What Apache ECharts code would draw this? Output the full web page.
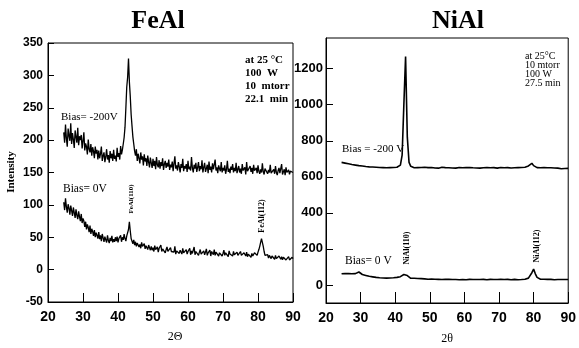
<!DOCTYPE html>
<html><head><meta charset="utf-8">
<script src="https://cdn.jsdelivr.net/npm/echarts@6/dist/echarts.min.js"></script>
<style>html,body{margin:0;padding:0;background:#fff}#c{width:579px;height:348px}</style>
</head><body><div id="c"></div>
<script>
// FeAl 2-theta grid (degrees, 0.25 step)
const feTheta = [
24.5,24.75,25,25.25,25.5,25.75,26,26.25,26.5,26.75, 27,27.25,27.5,27.75,28,28.25,28.5,28.75,29,29.25,
29.5,29.75,30,30.25,30.5,30.75,31,31.25,31.5,31.75, 32,32.25,32.5,32.75,33,33.25,33.5,33.75,34,34.25,
34.5,34.75,35,35.25,35.5,35.75,36,36.25,36.5,36.75, 37,37.25,37.5,37.75,38,38.25,38.5,38.75,39,39.25,
39.5,39.75,40,40.25,40.5,40.75,41,41.25,41.5,41.75, 42,42.25,42.5,42.75,43,43.25,43.5,43.75,44,44.25,
44.5,44.75,45,45.25,45.5,45.75,46,46.25,46.5,46.75, 47,47.25,47.5,47.75,48,48.25,48.5,48.75,49,49.25,
49.5,49.75,50,50.25,50.5,50.75,51,51.25,51.5,51.75, 52,52.25,52.5,52.75,53,53.25,53.5,53.75,54,54.25,
54.5,54.75,55,55.25,55.5,55.75,56,56.25,56.5,56.75, 57,57.25,57.5,57.75,58,58.25,58.5,58.75,59,59.25,
59.5,59.75,60,60.25,60.5,60.75,61,61.25,61.5,61.75, 62,62.25,62.5,62.75,63,63.25,63.5,63.75,64,64.25,
64.5,64.75,65,65.25,65.5,65.75,66,66.25,66.5,66.75, 67,67.25,67.5,67.75,68,68.25,68.5,68.75,69,69.25,
69.5,69.75,70,70.25,70.5,70.75,71,71.25,71.5,71.75, 72,72.25,72.5,72.75,73,73.25,73.5,73.75,74,74.25,
74.5,74.75,75,75.25,75.5,75.75,76,76.25,76.5,76.75, 77,77.25,77.5,77.75,78,78.25,78.5,78.75,79,79.25,
79.5,79.75,80,80.25,80.5,80.75,81,81.25,81.5,81.75, 82,82.25,82.5,82.75,83,83.25,83.5,83.75,84,84.25,
84.5,84.75,85,85.25,85.5,85.75,86,86.25,86.5,86.75, 87,87.25,87.5,87.75,88,88.25,88.5,88.75,89,89.25,
89.5,89.75,90];

// FeAl, Bias = -200 V
const feAlBias200 = [
212,196,224,203,190,218,207,199,226,194, 211,201,188,215,205,196,219,192,206,200,
208,187,199,212,184,195,190,178,201,186, 181,194,176,189,183,172,190,179,185,170,
184,172,179,190,168,176,181,166,174,186, 170,177,165,183,172,179,168,185,171,176,
167,188,174,180,170,191,178,185,194,204, 220,250,282,297,326,290,268,240,222,205,
194,183,176,186,168,179,172,164,181,170, 175,161,178,167,172,160,176,166,158,173,
165,157,171,160,168,155,174,162,158,169, 156,166,160,172,154,163,168,157,165,159,
170,154,162,158,167,152,164,175,156,161, 153,166,159,150,163,157,171,152,160,156,
163,151,168,155,159,153,174,157,150,162, 156,165,151,158,166,152,160,155,169,150,
158,165,151,156,162,149,167,154,159,150, 164,155,152,170,153,158,149,161,156,152,
166,150,157,153,161,148,155,168,151,156, 149,159,154,163,150,157,152,165,149,155,
160,150,156,148,163,153,151,158,147,166, 152,155,149,160,151,157,148,162,153,150,
157,149,161,152,148,155,150,164,151,147, 156,153,159,148,154,150,162,149,152,147,
155,148,160,150,146,153,157,149,152,163, 147,151,155,146,158,150,148,154,147,152,
149,155,150];

// FeAl, Bias = 0 V
const feAlBias0 = [
104,92,110,97,88,101,95,85,99,91, 83,96,88,80,93,84,78,90,82,75,
86,72,79,75,66,74,62,70,65,58, 68,55,63,59,52,61,50,57,53,48,
58,47,53,44,55,49,43,51,46,42, 53,45,41,49,44,52,42,47,43,50,
44,51,42,48,45,53,43,50,46,55, 48,44,52,55,62,74,60,48,45,40,
46,38,43,36,41,44,35,39,33,42, 36,34,40,32,37,35,31,38,34,30,
36,30,34,28,37,31,29,35,27,33, 30,38,28,32,29,34,26,31,35,28,
30,26,34,28,25,31,27,36,24,29, 26,32,25,30,28,24,33,26,29,25,
31,24,28,26,33,23,29,25,27,35, 23,28,25,30,22,27,31,24,26,23,
29,23,27,32,22,26,24,30,21,28, 25,23,31,22,27,24,29,21,26,23,
28,21,25,30,22,26,23,27,20,29, 24,22,26,21,28,23,25,20,27,22,
25,20,28,22,24,19,26,23,21,27, 20,24,22,26,19,25,21,23,26,24,
25,22,27,31,36,42,48,45,36,28, 22,24,19,23,18,22,20,17,21,19,
20,16,22,17,19,15,21,18,16,20, 15,19,17,21,15,18,16,20,15,18,
16,19,17];

// NiAl 2-theta grid (degrees, 0.5 step)
const niTheta = [
24.5,25,25.5,26,26.5,27,27.5,28,28.5,29,
29.5,30,30.5,31,31.5,32,32.5,33,33.5,34,
34.5,35,35.5,36,36.5,37,37.5,38,38.5,39,
39.5,40,40.5,41,41.5,42,42.5,43,43.5,44,
44.5,45,45.5,46,46.5,47,47.5,48,48.5,49,
49.5,50,50.5,51,51.5,52,52.5,53,53.5,54,
54.5,55,55.5,56,56.5,57,57.5,58,58.5,59,
59.5,60,60.5,61,61.5,62,62.5,63,63.5,64,
64.5,65,65.5,66,66.5,67,67.5,68,68.5,69,
69.5,70,70.5,71,71.5,72,72.5,73,73.5,74,
74.5,75,75.5,76,76.5,77,77.5,78,78.5,79,
79.5,80,80.5,81,81.5,82,82.5,83,83.5,84,
84.5,85,85.5,86,86.5,87,87.5,88,88.5,89,
89.5,90];

// NiAl, Bias = -200 V
const niAlBias200 = [
680,685,676,680,672,675,668,670,665,667,
662,665,660,662,657,660,655,658,654,656,
653,655,652,654,651,653,650,653,651,654,
652,655,653,658,665,720,1000,1267,820,680,
658,652,650,648,651,649,652,650,653,649,
651,648,652,650,649,652,648,650,653,649,
651,648,650,652,649,651,648,650,652,649,
650,648,651,649,652,648,650,651,649,650,
648,651,650,649,652,648,650,649,651,650,
648,650,652,649,650,648,651,650,649,651,
650,648,651,649,652,650,653,655,660,668,
675,662,655,651,649,650,648,651,649,650,
648,650,647,649,646,648,647,645,648,646,
645,647];

// NiAl, Bias = 0 V
const niAlBias0 = [
62,60,64,61,63,60,62,61,63,66,
72,62,58,55,53,50,48,46,45,43,
42,41,40,41,39,40,38,40,39,41,
40,41,42,44,46,50,58,66,52,42,
37,36,37,35,36,34,35,33,34,33,
32,34,33,31,32,33,31,32,30,32,
31,30,32,31,30,32,30,31,29,31,
30,31,29,30,31,29,30,31,30,29,
30,29,31,30,29,30,31,29,30,31,
30,29,31,30,30,29,31,30,29,30,
31,30,29,31,30,31,32,34,38,48,
68,88,62,42,35,32,31,32,30,31,
30,31,30,29,31,30,29,30,31,30,
29,30];

const feYTicks = [-50,0,50,100,150,200,250,300,350];
const niYTicks = [0,200,400,600,800,1000,1200];

const pairs = (xs, arr) => xs.map((t,i)=>[t, arr[i]]);

const serif = "'Liberation Serif','Times New Roman',serif";
const sans = "'Liberation Sans Narrow','Liberation Sans',Arial,sans-serif";

const chart = echarts.init(document.getElementById('c'), null, {renderer:'canvas'});

function xAxis(gi, tickLen){
  return {
    type:'value', gridIndex:gi, min:20, max:90, interval:10,
    axisLine:{show:true, onZero:false, lineStyle:{color:'#000', width:1}},
    axisTick:{show:true, inside:true, length:tickLen, lineStyle:{color:'#000', width:1}},
    axisLabel:{color:'#000', fontFamily:sans, fontWeight:'bold', fontSize:14, margin:8},
    splitLine:{show:false}
  };
}

function txt(x,y,s,opt){
  return {type:'text', x:x, y:y, style:Object.assign({text:s, fill:'#000', font:'12px '+serif, textAlign:'left', textVerticalAlign:'middle'}, opt||{})};
}
function rot(x,y,s,size){
  return {type:'text', x:x, y:y, rotation:Math.PI/2, style:{text:s, fill:'#000', font:'bold '+size+'px '+serif, textAlign:'center', textVerticalAlign:'middle'}};
}

chart.setOption({
  animation:false,
  backgroundColor:'#fff',
  grid:[
    {left:48, right:286, top:43, bottom:46, show:true, borderColor:'#000', borderWidth:1},
    {left:326, right:8, top:38, bottom:45, show:true, borderColor:'#000', borderWidth:1}
  ],
  xAxis:[ xAxis(0, 9), xAxis(1, 11) ],
  yAxis:[
    {type:'value', gridIndex:0, min:-50, max:350, interval:50,
     axisLine:{show:true, lineStyle:{color:'#000'}},
     axisTick:{show:true, inside:true, length:6, lineStyle:{color:'#000'}},
     axisLabel:{color:'#000', fontFamily:sans, fontWeight:'bold', fontSize:12, margin:5, customValues:feYTicks},
     splitLine:{show:false}},
    {type:'value', gridIndex:1, min:-100, max:1370,
     axisLine:{show:true, lineStyle:{color:'#000'}},
     axisTick:{show:true, inside:true, length:7, customValues:niYTicks, lineStyle:{color:'#000'}},
     axisLabel:{color:'#000', fontFamily:sans, fontWeight:'bold', fontSize:13, margin:3, customValues:niYTicks,
                formatter:v=>String(v)},
     splitLine:{show:false}}
  ],
  series:[
    {type:'line', xAxisIndex:0, yAxisIndex:0, data:pairs(feTheta, feAlBias200), symbol:'none', lineStyle:{color:'#000', width:1.3}},
    {type:'line', xAxisIndex:0, yAxisIndex:0, data:pairs(feTheta, feAlBias0), symbol:'none', lineStyle:{color:'#000', width:1.3}},
    {type:'line', xAxisIndex:1, yAxisIndex:1, data:pairs(niTheta, niAlBias200), symbol:'none', lineStyle:{color:'#000', width:1.6}},
    {type:'line', xAxisIndex:1, yAxisIndex:1, data:pairs(niTheta, niAlBias0), symbol:'none', lineStyle:{color:'#000', width:1.6}}
  ],
  graphic:[
    txt(158,21,'FeAl',{font:'bold 26px '+serif, textAlign:'center'}),
    txt(458,21,'NiAl',{font:'bold 26px '+serif, textAlign:'center'}),
    rot(11,172,'Intensity',11),
    txt(175,337,'2\u0398',{textAlign:'center', font:'12px '+serif}),
    txt(447,339,'2\u03b8',{textAlign:'center', font:'12px '+serif}),
    txt(61,117,'Bias= -200V',{font:'11px '+serif}),
    txt(63,189,'Bias= 0V',{font:'11.5px '+serif}),
    txt(245,60,'at 25 \u00b0C',{font:'bold 11px '+serif}),
    txt(245,73,'100  W',{font:'bold 11px '+serif}),
    txt(245,86,'10  mtorr',{font:'bold 11px '+serif}),
    txt(245,99,'22.1  min',{font:'bold 11px '+serif}),
    rot(131,199,'FeAl(110)',7),
    rot(262,216,'FeAl(112)',8),
    txt(525,56,'at 25\u00b0C',{font:'10px '+serif}),
    txt(525,65,'10 mtorr',{font:'10px '+serif}),
    txt(525,74,'100 W',{font:'10px '+serif}),
    txt(525,83,'27.5 min',{font:'10px '+serif}),
    txt(342,149,'Bias = -200 V',{font:'11px '+serif}),
    txt(345,261,'Bias= 0 V',{font:'11.5px '+serif}),
    rot(407,248,'NiAl(110)',8),
    rot(537,246,'NiAl(112)',8)
  ]
});
</script>
</body></html>
